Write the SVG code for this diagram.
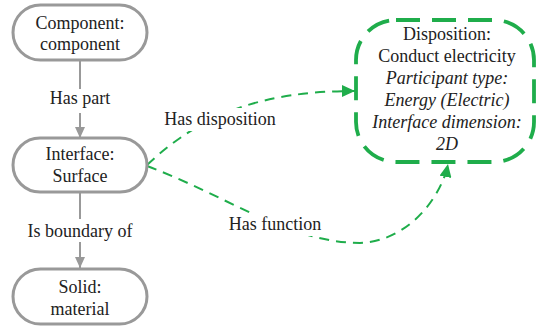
<svg xmlns="http://www.w3.org/2000/svg" width="537" height="327" viewBox="0 0 537 327">
  <defs>
    <marker id="arrGray" markerUnits="userSpaceOnUse" markerWidth="11" markerHeight="10" refX="11" refY="5" orient="auto">
      <path d="M0,0 L11,5 L0,10 z" fill="#999"/>
    </marker>
    <marker id="arrGreen" markerUnits="userSpaceOnUse" markerWidth="13" markerHeight="12" refX="13" refY="6" orient="auto">
      <path d="M0,0 L13,6 L0,12 z" fill="#1fad4b"/>
    </marker>
  </defs>

  <!-- connectors: grey solid relations and green dashed relations, labels on white -->
  <g id="connectors">
    <g fill="none" stroke="#999" stroke-width="2">
      <path d="M80,60 L80,138" marker-end="url(#arrGray)"/>
      <path d="M80,192 L80,268" marker-end="url(#arrGray)"/>
    </g>
    <g fill="none" stroke="#1fad4b" stroke-width="2" stroke-dasharray="10 7">
      <path d="M147,165 C200,115 260,91 355,91" marker-end="url(#arrGreen)"/>
      <path d="M147,166 C225,195 290,243 360,243 C410,241 442,195 448,164" marker-end="url(#arrGreen)"/>
    </g>
    <g fill="#fff">
      <rect x="45" y="89" width="70" height="24"/>
      <rect x="22" y="219" width="116" height="23"/>
      <rect x="160" y="108" width="121" height="23"/>
      <rect x="225" y="213" width="101" height="23"/>
    </g>
    <text x="80" y="104" font-family="Liberation Serif" font-size="18" fill="#222" text-anchor="middle">Has part</text>
    <text x="80" y="237" font-family="Liberation Serif" font-size="18" fill="#222" text-anchor="middle">Is boundary of</text>
    <text x="220" y="125" font-family="Liberation Serif" font-size="18" fill="#222" text-anchor="middle">Has disposition</text>
    <text x="275" y="230" font-family="Liberation Serif" font-size="18" fill="#222" text-anchor="middle">Has function</text>
  </g>

  <!-- nodes -->
  <g id="component">
    <rect x="13" y="5" width="134" height="55" rx="27.5" fill="#fff" stroke="#999" stroke-width="3"/>
    <text x="80" y="29" font-family="Liberation Serif" font-size="18" fill="#222" text-anchor="middle">Component:</text>
    <text x="80" y="50" font-family="Liberation Serif" font-size="18" fill="#222" text-anchor="middle">component</text>
  </g>

  <g id="interface">
    <rect x="13" y="138" width="134" height="54" rx="27" fill="#fff" stroke="#999" stroke-width="3"/>
    <text x="80" y="160" font-family="Liberation Serif" font-size="18" fill="#222" text-anchor="middle">Interface:</text>
    <text x="80" y="182" font-family="Liberation Serif" font-size="18" fill="#222" text-anchor="middle">Surface</text>
  </g>

  <g id="solid">
    <rect x="13" y="269" width="134" height="55" rx="27.5" fill="#fff" stroke="#999" stroke-width="3"/>
    <text x="80" y="293" font-family="Liberation Serif" font-size="18" fill="#222" text-anchor="middle">Solid:</text>
    <text x="80" y="315" font-family="Liberation Serif" font-size="18" fill="#222" text-anchor="middle">material</text>
  </g>

  <g id="disposition">
    <rect x="356" y="20" width="178" height="142" rx="40" fill="#fff" stroke="#1fad4b" stroke-width="3.8" stroke-dasharray="24 12"/>
    <text x="447" y="40" font-family="Liberation Serif" font-size="18" fill="#222" text-anchor="middle">Disposition:</text>
    <text x="447" y="62" font-family="Liberation Serif" font-size="18" fill="#222" text-anchor="middle">Conduct electricity</text>
    <text x="447" y="84" font-family="Liberation Serif" font-size="18" font-style="italic" fill="#222" text-anchor="middle">Participant type:</text>
    <text x="447" y="106" font-family="Liberation Serif" font-size="18" font-style="italic" fill="#222" text-anchor="middle">Energy (Electric)</text>
    <text x="447" y="128" font-family="Liberation Serif" font-size="18" font-style="italic" fill="#222" text-anchor="middle">Interface dimension:</text>
    <text x="447" y="150" font-family="Liberation Serif" font-size="18" font-style="italic" fill="#222" text-anchor="middle">2D</text>
  </g>
</svg>
